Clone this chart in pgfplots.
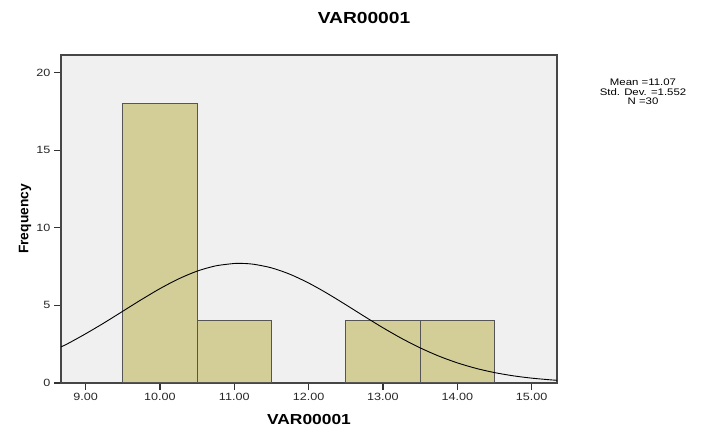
\documentclass[border=0pt]{standalone}
\usepackage{fontspec}
\setmainfont{Liberation Sans}[FakeStretch=1.2]
\newfontfamily\ylabfont{Liberation Sans}
\usepackage{pgfplots}
\pgfplotsset{compat=1.18}
\definecolor{bgc}{RGB}{240,240,240}
\definecolor{barc}{RGB}{211,206,151}
\definecolor{edgec}{RGB}{85,85,85}
\definecolor{framec}{RGB}{70,70,70}
\begin{document}
\begin{tikzpicture}
\path[use as bounding box] (0,0) rectangle (705bp,428bp);
\begin{axis}[
  at={(61bp,45bp)}, anchor=south west,
  width=496bp, height=328bp, scale only axis,
  xmin=8.67, xmax=15.34, ymin=0, ymax=21.14,
  axis background/.style={fill=bgc},
  axis line style={draw=framec, line width=1.2bp},
  xtick={9,10,11,12,13,14,15},
  xticklabels={9.00,10.00,11.00,12.00,13.00,14.00,15.00},
  ytick={0,5,10,15,20},
  tick align=outside,
  xtick pos=left, ytick pos=left,
  major tick length=7bp,
  every tick/.style={black!80, line width=1.2bp},
  /pgf/number format/assume math mode=true,
  tick label style={font=\fontsize{10.5bp}{12bp}\selectfont, text=black!85},
  xlabel={VAR00001},
  ylabel={Frequency},
  x label style={at={(axis description cs:0.5,-0.1098)}, anchor=center, font=\fontsize{14.5bp}{16bp}\selectfont\bfseries},
  y label style={at={(axis description cs:-0.0726,0.5)}, anchor=center, rotate=0, font=\fontsize{13.8bp}{16bp}\selectfont\ylabfont\bfseries},
]
\addplot[ybar, bar width=1, fill=barc, draw=edgec, line width=1bp] coordinates {
(10,18) (11,4) (13,4) (14,4)
};
\addplot[smooth, black, line width=0.9bp] coordinates {
(8.67,2.333) (8.75,2.508) (9.0,3.169) (9.25,3.877) (9.5,4.623) (9.75,5.371)
(10.0,6.080) (10.25,6.707) (10.5,7.209) (10.75,7.549) (11.0,7.704) (11.07,7.712)
(11.25,7.660) (11.5,7.421) (11.75,7.006) (12.0,6.444) (12.25,5.776) (12.5,5.044)
(12.75,4.292) (13.0,3.559) (13.25,2.875) (13.5,2.264) (13.75,1.736) (14.0,1.298)
(14.25,0.945) (14.5,0.671) (14.75,0.464) (15.0,0.313) (15.25,0.205) (15.34,0.175)
};
\end{axis}
\node[font=\fontsize{16bp}{18bp}\selectfont\bfseries, anchor=center] at (364bp,410.5bp) {VAR00001};
\node[font=\fontsize{9.5bp}{9.7bp}\selectfont, align=center, anchor=center] at (643bp,336bp) {Mean =11.07\\Std. Dev. =1.552\\N =30};
\end{tikzpicture}
\end{document}
